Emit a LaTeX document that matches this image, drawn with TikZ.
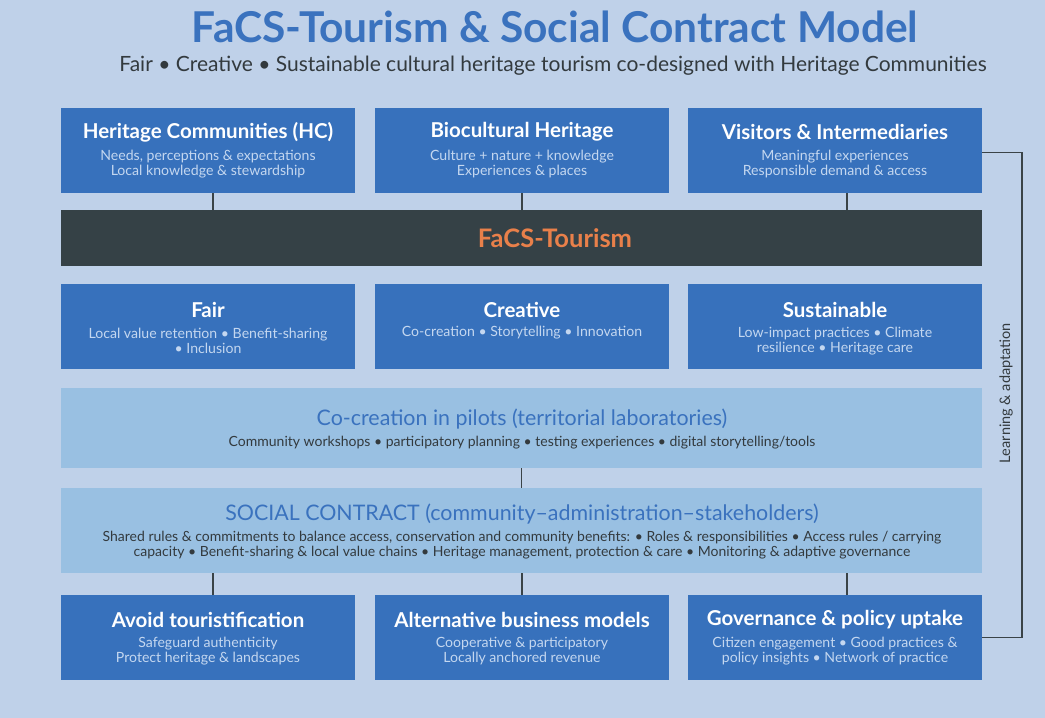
\documentclass[tikz,border=0pt]{standalone}
\usepackage{fontspec}
\setmainfont{Lato}
\definecolor{bg}{HTML}{BFD1E9}
\definecolor{boxblue}{HTML}{3771BC}
\definecolor{subblue}{HTML}{C4D7F0}
\definecolor{darkbar}{HTML}{354146}
\definecolor{orangetxt}{HTML}{E9804A}
\definecolor{lightbox}{HTML}{99C0E2}
\definecolor{titleblue}{HTML}{3A72BE}
\definecolor{darktext}{HTML}{333A3E}
\definecolor{linecol}{HTML}{3A4347}
\tikzset{
  every node/.style={inner sep=0pt, outer sep=0pt},
  bluebox/.style={fill=boxblue, draw=none, minimum width=294pt, minimum height=85pt, anchor=north west},
  widebox/.style={fill=lightbox, draw=none, minimum width=921pt, anchor=north west},
  btitle/.style={text=white, font=\fontsize{20.5}{24}\selectfont\bfseries},
  bsub/.style={text=subblue, font=\fontsize{14.1}{15.5}\selectfont, align=center},
  wtitle/.style={text=titleblue, font=\fontsize{21.4}{25}\selectfont},
  wsub/.style={text=darktext, font=\fontsize{14}{15.5}\selectfont, align=center},
  conn/.style={draw=linecol, line width=1.6pt}
}
\begin{document}
\begin{tikzpicture}[x=1pt,y=-1pt]
\fill[bg] (0,0) rectangle (1045,718);
\useasboundingbox (0,0) rectangle (1045,718);
% title
\node[text=titleblue, font=\fontsize{42.5}{48}\selectfont\bfseries] (title) at (555,27) {FaCS-Tourism \& Social Contract Model};
\node[text=darktext, font=\fontsize{21}{24}\selectfont] (subtitle) at (553,66) {Fair • Creative • Sustainable cultural heritage tourism co-designed with Heritage Communities};
% top boxes
\node[bluebox] (hc) at (61,108) {};
\node[bluebox] (bio) at (375,108) {};
\node[bluebox] (vi) at (688,108) {};
\node[btitle] (hct) at (208,132) {Heritage Communities (HC)};
\node[bsub] (hcs) at (208,164) {Needs, perceptions \& expectations\\Local knowledge \& stewardship};
\node[btitle] (biot) at (522,132) {Biocultural Heritage};
\node[bsub] (bios) at (522,164) {Culture + nature + knowledge\\Experiences \& places};
\node[btitle] (vit) at (835,132) {Visitors \& Intermediaries};
\node[bsub] (vis) at (835,164) {Meaningful experiences\\Responsible demand \& access};
% dark bar
\node[fill=darkbar, minimum width=921pt, minimum height=56pt, anchor=north west] (bar) at (61,210) {};
\node[text=orangetxt, font=\fontsize{25.5}{30}\selectfont\bfseries] (bart) at (555,238) {FaCS-Tourism};
% middle boxes
\node[bluebox] (fair) at (61,284) {};
\node[bluebox] (cre) at (375,284) {};
\node[bluebox] (sus) at (688,284) {};
\node[btitle] (fairt) at (208,310) {Fair};
\node[bsub] (fairs) at (208,341) {Local value retention • Benefit-sharing\\• Inclusion};
\node[btitle] (cret) at (522,310) {Creative};
\node[bsub] (cres) at (522,333) {Co-creation • Storytelling • Innovation};
\node[btitle] (sust) at (835,310) {Sustainable};
\node[bsub] (suss) at (835,341) {Low-impact practices • Climate\\resilience • Heritage care};
% co-creation
\node[widebox, minimum height=80pt] (cc) at (61,388) {};
\node[wtitle] (cct) at (522,419) {Co-creation in pilots (territorial laboratories)};
\node[wsub] (ccs) at (522,443) {Community workshops • participatory planning • testing experiences • digital storytelling/tools};
% social contract
\node[widebox, minimum height=85pt] (sc) at (61,488) {};
\node[wtitle] (sct) at (522,514) {SOCIAL CONTRACT (community–administration–stakeholders)};
\node[wsub] (scs) at (522,545) {Shared rules \& commitments to balance access, conservation and community benefits: • Roles \& responsibilities • Access rules / carrying\\capacity • Benefit-sharing \& local value chains • Heritage management, protection \& care • Monitoring \& adaptive governance};
% bottom boxes
\node[bluebox] (av) at (61,595) {};
\node[bluebox] (alt) at (375,595) {};
\node[bluebox] (gov) at (688,595) {};
\node[btitle] (avt) at (208,620) {Avoid touristification};
\node[bsub] (avs) at (208,651) {Safeguard authenticity\\Protect heritage \& landscapes};
\node[btitle] (altt) at (522,620) {Alternative business models};
\node[bsub] (alts) at (522,651) {Cooperative \& participatory\\Locally anchored revenue};
\node[btitle] (govt) at (835,620) {Governance \& policy uptake};
\node[bsub] (govs) at (835,651) {Citizen engagement • Good practices \&\\policy insights • Network of practice};
% connectors
\draw[conn] (hc.south) ++(5,0) coordinate (c1) -- (c1 |- bar.north);
\draw[conn] (bio.south) coordinate (c2) -- (c2 |- bar.north);
\draw[conn] (vi.south) ++(12,0) coordinate (c3) -- (c3 |- bar.north);
\draw[conn] (cc.south) coordinate (c4) -- (c4 |- sc.north);
\draw[conn] (av.north) ++(5,0) coordinate (c5) -- (c5 |- sc.south);
\draw[conn] (alt.north) coordinate (c6) -- (c6 |- sc.south);
\draw[conn] (gov.north) ++(12,0) coordinate (c7) -- (c7 |- sc.south);
% learning loop
\draw[conn] ([yshift=-2pt]vi.east) -- ++(40,0) coordinate (lp) |- (gov.east);
\node[text=darktext, font=\fontsize{14.5}{16}\selectfont, rotate=90] (learn) at (1006,393) {Learning \& adaptation};
\end{tikzpicture}
\end{document}
